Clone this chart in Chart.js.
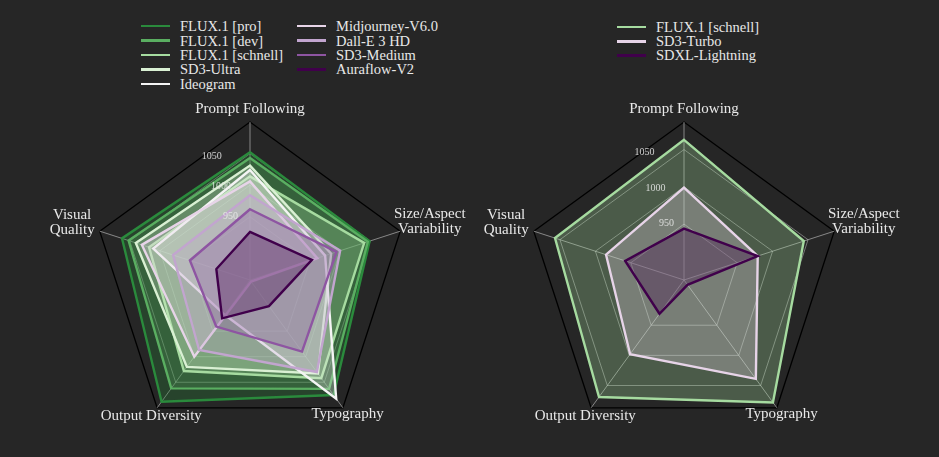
<!DOCTYPE html>
<html lang="en">
<head>
  <meta charset="UTF-8" />
  <title>ELO radar</title>
  <script src="https://cdn.jsdelivr.net/npm/chart.js"></script>
  <style>
    body {
      margin: 0;
      width: 939px;
      height: 457px;
      background: #262626;
      overflow: hidden;
      font-family: "Liberation Serif", serif;
    }
    canvas { position: absolute; top: 0; }
    #radarLeft { left: 0; }
    #radarRight { left: 470px; }
    .legend {
      position: absolute;
      display: grid;
      grid-auto-flow: column;
      column-gap: 0;
      color: #e8e8e8;
      font-size: 14.5px;
    }
    #legendLeft { left: 141px; top: 19px; grid-template-rows: repeat(5, 14.4px); grid-template-columns: 156px auto; }
    #legendRight { left: 617px; top: 20px; grid-template-rows: repeat(3, 14.2px); }
    .item { display: flex; align-items: center; white-space: nowrap; line-height: 14px; }
    .swatch { width: 29px; height: 2.5px; margin-right: 10px; }
  </style>
</head>
<body>
  <div id="legendLeft" class="legend"></div>
  <div id="legendRight" class="legend"></div>
  <canvas id="radarLeft" width="470" height="457"></canvas>
  <canvas id="radarRight" width="469" height="457"></canvas>

  <script>
    // axes, clockwise from the top
    const axes = ['Prompt Following', ['Size/Aspect', 'Variability'], 'Typography', 'Output Diversity', ['Visual', 'Quality']];

    // left chart: all models
    const leftModels = ['FLUX.1 [pro]', 'FLUX.1 [dev]', 'FLUX.1 [schnell]', 'SD3-Ultra', 'Ideogram',
                        'Midjourney-V6.0', 'Dall-E 3 HD', 'SD3-Medium', 'Auraflow-V2'];
    const leftColors = ['#2a8a3c', '#5aae61', '#a6dba0', '#d9f0d3', '#f4f4f4',
                        '#e7d4e8', '#c2a5cf', '#8e55a2', '#40004b'];
    const fluxPro      = [1052, 1049, 1075, 1088, 1063];
    const fluxDev      = [1043, 1046, 1063, 1062, 1052];
    const fluxSchnell  = [1014, 1040, 1042, 1028, 1018];
    const sd3Ultra     = [1031, 985, 1033, 1020, 1040];
    const ideogram     = [1024, 975, 1082, 918, 1011];
    const midjourney   = [1006, 962, 853, 1000, 1030];
    const dalle3       = [984, 1000, 1030, 987, 978];
    const sd3Medium    = [962, 994, 990, 941, 950];
    const auraflow     = [926, 953, 901, 925, 906];
    const leftValues = [fluxPro, fluxDev, fluxSchnell, sd3Ultra, ideogram, midjourney, dalle3, sd3Medium, auraflow];
    const leftMin = 850, leftMax = 1100;

    // right chart: fast models
    const rightModels = ['FLUX.1 [schnell]', 'SD3-Turbo', 'SDXL-Lightning'];
    const rightColors = ['#a6dba0', '#e7d4e8', '#40004b'];
    const schnellFast  = [1063, 1044, 1078, 1069, 1057];
    const sd3Turbo     = [999, 979, 1039, 998, 985];
    const sdxlLight    = [944, 979, 883, 931, 958];
    const rightValues = [schnellFast, sd3Turbo, sdxlLight];
    const rightMin = 875, rightMax = 1087;

    const tickValues = [950, 1000, 1050];
    const labelGap = [13, 31, 8, 10, 29];   // extra distance of each axis label beyond the frame
    const textColor = '#e8e8e8';

    function rgba(hex, a) {
      const n = parseInt(hex.slice(1), 16);
      return `rgba(${n >> 16},${(n >> 8) & 255},${n & 255},${a})`;
    }

    function buildLegend(el, names, colors) {
      names.forEach((name, i) => {
        const item = document.createElement('div');
        item.className = 'item';
        item.innerHTML = `<span class="swatch" style="background:${colors[i]}"></span>${name}`;
        el.appendChild(item);
      });
    }
    buildLegend(document.getElementById('legendLeft'), leftModels, leftColors);
    buildLegend(document.getElementById('legendRight'), rightModels, rightColors);

    // axis names and tick labels, placed like the matplotlib polar plot
    const radarText = {
      id: 'radarText',
      afterDraw(chart) {
        const r = chart.scales.r, ctx = chart.ctx;
        ctx.save();
        ctx.fillStyle = textColor;
        ctx.textAlign = 'center';
        ctx.textBaseline = 'middle';
        ctx.font = '15px "Liberation Serif"';
        chart.data.labels.forEach((lab, i) => {
          const p = r.getPointPosition(i, r.drawingArea + labelGap[i]);
          const lines = [].concat(lab);
          lines.forEach((t, k) => ctx.fillText(t, p.x, p.y + (k - (lines.length - 1) / 2) * 15));
        });
        ctx.font = '10px "Liberation Serif"';
        ctx.fillStyle = 'rgba(235,235,235,0.85)';
        tickValues.forEach(v => {
          const p = r.getPointPosition(0, r.getDistanceFromCenterForValue(v) + 3, -0.3);
          ctx.fillText(String(v), p.x, p.y);
        });
        ctx.restore();
      }
    };

    function makeRadar(id, names, colors, values, min, max, padding) {
      const ticks = [min, ...tickValues, max];
      return new Chart(document.getElementById(id), {
        type: 'radar',
        data: {
          labels: axes,
          datasets: values.map((v, i) => ({
            label: names[i],
            data: v,
            borderColor: colors[i],
            backgroundColor: rgba(colors[i], 0.29),
            borderWidth: 2.4,
            pointRadius: 0,
            fill: true,
            order: values.length - i
          }))
        },
        options: {
          responsive: false,
          animation: false,
          layout: { padding },
          plugins: { legend: { display: false }, tooltip: { enabled: false } },
          scales: {
            r: {
              min, max,
              afterBuildTicks: s => { s.ticks = ticks.map(value => ({ value })); },
              ticks: { display: false },
              pointLabels: { display: false },
              angleLines: { color: 'rgba(200,200,200,0.6)', lineWidth: 1 },
              grid: {
                color: c => c.tick && c.tick.value === max ? '#000000' : 'rgba(200,200,200,0.5)',
                lineWidth: c => c.tick && c.tick.value === max ? 1.3 : 1
              }
            }
          }
        },
        plugins: [radarText]
      });
    }

    makeRadar('radarLeft', leftModels, leftColors, leftValues, leftMin, leftMax,
              { left: 92, right: 62, top: 122, bottom: 19 });
    makeRadar('radarRight', rightModels, rightColors, rightValues, rightMin, rightMax,
              { left: 56, right: 97, top: 122, bottom: 19 });
  </script>
</body>
</html>
